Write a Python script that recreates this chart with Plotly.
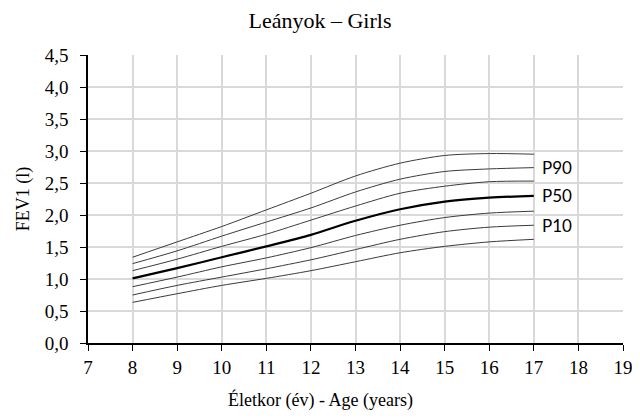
import plotly.graph_objects as go

COLORS = {
    "line": "#3a3a3a",
    "median": "#000000",
    "grid": "#d9d9d9",
    "axis": "#000000",
    "text": "#000000",
}

SERIF = "Liberation Serif"
SANS = "Lato"

ages = [8, 9, 10, 11, 12, 13, 14, 15, 16, 17]

p97 = [1.34, 1.58, 1.82, 2.08, 2.34, 2.61, 2.81, 2.93, 2.96, 2.95]
p90 = [1.24, 1.44, 1.67, 1.89, 2.11, 2.36, 2.56, 2.68, 2.72, 2.74]
p75 = [1.13, 1.31, 1.51, 1.70, 1.92, 2.14, 2.34, 2.45, 2.52, 2.53]
p50 = [1.01, 1.17, 1.34, 1.51, 1.69, 1.91, 2.09, 2.21, 2.27, 2.30]
p25 = [0.88, 1.03, 1.19, 1.33, 1.49, 1.68, 1.84, 1.96, 2.03, 2.06]
p10 = [0.75, 0.90, 1.03, 1.16, 1.30, 1.46, 1.62, 1.74, 1.81, 1.84]
p3 = [0.635, 0.77, 0.90, 1.01, 1.13, 1.27, 1.41, 1.51, 1.58, 1.62]

series = [
    ("P97", p97), ("P90", p90), ("P75", p75), ("P50", p50),
    ("P25", p25), ("P10", p10), ("P3", p3),
]
labelled = ["P90", "P50", "P10"]

fig = go.Figure()

for name, vals in series:
    is_median = name == "P50"
    fig.add_trace(go.Scatter(
        x=ages,
        y=vals,
        mode="lines",
        name=name,
        line=dict(
            color=COLORS["median"] if is_median else COLORS["line"],
            width=2.2 if is_median else 1,
            shape="spline",
            smoothing=0.8,
        ),
        showlegend=False,
    ))
    if name in labelled:
        fig.add_annotation(
            x=ages[-1], y=vals[-1], text=name, showarrow=False,
            xanchor="left", xshift=6,
            font=dict(family=SANS, size=17, color=COLORS["text"]),
        )

# x title sits centred on the whole chart, not on the plot area
fig.add_annotation(
    text="Életkor (év) - Age (years)", xref="paper", yref="paper",
    x=0.435, y=0, xanchor="center", yanchor="middle", yshift=-57,
    showarrow=False, font=dict(family=SERIF, size=18, color=COLORS["text"]),
)

# page body has an 8px default margin, so the margins are shifted by 8px
fig.update_layout(
    width=640,
    height=419,
    paper_bgcolor="white",
    plot_bgcolor="white",
    separators=", ",
    margin=dict(l=80, r=25, t=47, b=84),
    title=dict(
        text="Leányok – Girls", x=0.4875, xref="container", xanchor="center",
        y=0.971, yref="container", yanchor="middle",
        font=dict(family=SERIF, size=22, color=COLORS["text"]),
    ),
    font=dict(family=SERIF, color=COLORS["text"]),
    xaxis=dict(
        range=[7, 19], dtick=1, tick0=7,
        showgrid=True, gridcolor=COLORS["grid"], gridwidth=1.5,
        showline=True, linecolor=COLORS["axis"], linewidth=1.5,
        ticks="outside", ticklen=6, tickcolor=COLORS["axis"],
        tickfont=dict(family=SERIF, size=19),
        zeroline=False,
    ),
    yaxis=dict(
        range=[0, 4.5], dtick=0.5, tick0=0, tickformat=".1f",
        showgrid=True, gridcolor=COLORS["grid"], gridwidth=1.5,
        showline=True, linecolor=COLORS["axis"], linewidth=1.5,
        ticks="outside", ticklen=6, tickcolor=COLORS["axis"],
        tickfont=dict(family=SERIF, size=19),
        ticklabelstandoff=8,
        zeroline=False,
        title=dict(text="FEV1 (l)", font=dict(family=SERIF, size=18), standoff=10),
    ),
)

fig.write_html("out.html")
